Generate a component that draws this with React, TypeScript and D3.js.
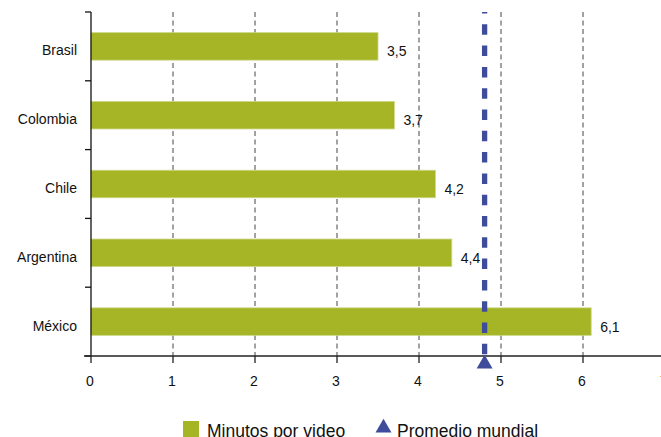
import React from "react";
import * as d3 from "d3";

const categories = ["Brasil", "Colombia", "Chile", "Argentina", "México"];
const values = [3.5, 3.7, 4.2, 4.4, 6.1];
const valueLabels = ["3,5", "3,7", "4,2", "4,4", "6,1"];
const xTicks = [0, 1, 2, 3, 4, 5, 6, 7];
const worldAverage = 4.8;
const legendLabels = ["Minutos por video", "Promedio mundial"];

const W = 661;
const H = 437;
const FONT = "'Liberation Sans', Arial, sans-serif";
const BAR = "#a5b526";
const BLUE = "#3f4c9c";

export default function App() {
  const x = d3.scaleLinear().domain([0, 7]).range([91, 665]);
  const y = d3
    .scaleBand<string>()
    .domain(categories)
    .range([12, 356])
    .paddingInner(0.6)
    .paddingOuter(0.3);
  const step = y.step();
  const top = 12;
  const bottom = 356;
  const avgX = x(worldAverage);
  const tri = d3.symbol().type(d3.symbolTriangle).size(110)();

  return (
    <svg
      width={W}
      height={H}
      style={{ position: "absolute", left: 0, top: 0, background: "#fff" }}
      fontFamily={FONT}
    >
      {/* gridlines */}
      {xTicks
        .filter((t) => t > 0 && t < 7)
        .map((t) => (
          <line
            key={"g" + t}
            x1={x(t)}
            x2={x(t)}
            y1={top}
            y2={bottom}
            stroke="#444"
            strokeWidth={1}
            strokeDasharray="5,3.5"
          />
        ))}
      {/* bars */}
      {categories.map((c, i) => (
        <g key={c}>
          <rect
            x={x(0)}
            y={y(c)!}
            width={x(values[i]) - x(0)}
            height={y.bandwidth()}
            fill={BAR}
            stroke="#cdd887"
            strokeWidth={0.8}
          />
          <text
            x={x(values[i]) + 9}
            y={y(c)! + y.bandwidth() / 2 + 10}
            fontSize={14}
            fill="#111"
          >
            {valueLabels[i]}
          </text>
          <text
            x={77}
            y={y(c)! + y.bandwidth() / 2 + 9}
            fontSize={14}
            fill="#111"
            textAnchor="end"
          >
            {c}
          </text>
        </g>
      ))}
      {/* y axis */}
      <line x1={91} x2={91} y1={top} y2={bottom} stroke="#111" strokeWidth={1.3} />
      {d3.range(categories.length + 1).map((i) => (
        <line
          key={"yt" + i}
          x1={85}
          x2={91}
          y1={top + i * step}
          y2={top + i * step}
          stroke="#111"
          strokeWidth={1.3}
        />
      ))}
      {/* world average line */}
      <line
        x1={avgX}
        x2={avgX}
        y1={top}
        y2={bottom}
        stroke={BLUE}
        strokeWidth={5.3}
        strokeDasharray="10.5,10.8"
        strokeDashoffset={9}
      />
      {/* x axis */}
      <line x1={84} x2={W} y1={bottom} y2={bottom} stroke="#222" strokeWidth={1.3} />
      {xTicks.map((t) => (
        <g key={"xt" + t}>
          <line
            x1={x(t)}
            x2={x(t)}
            y1={bottom}
            y2={bottom + 7}
            stroke="#222"
            strokeWidth={1.3}
          />
          <text x={x(t) - 1} y={386} fontSize={14} textAnchor="middle" fill="#111">
            {t}
          </text>
        </g>
      ))}
      {/* triangle marker */}
      <path d={tri!} transform={`translate(${avgX},${bottom + 8})`} fill={BLUE} />
      {/* legend */}
      <rect x={183} y={421} width={16} height={16} fill={BAR} />
      <text x={207} y={437} fontSize={17.5} fill="#111">
        {legendLabels[0]}
      </text>
      <path d={tri!} transform={`translate(383.5,428)`} fill={BLUE} />
      <text x={397} y={437} fontSize={17.5} fill="#111">
        {legendLabels[1]}
      </text>
    </svg>
  );
}
